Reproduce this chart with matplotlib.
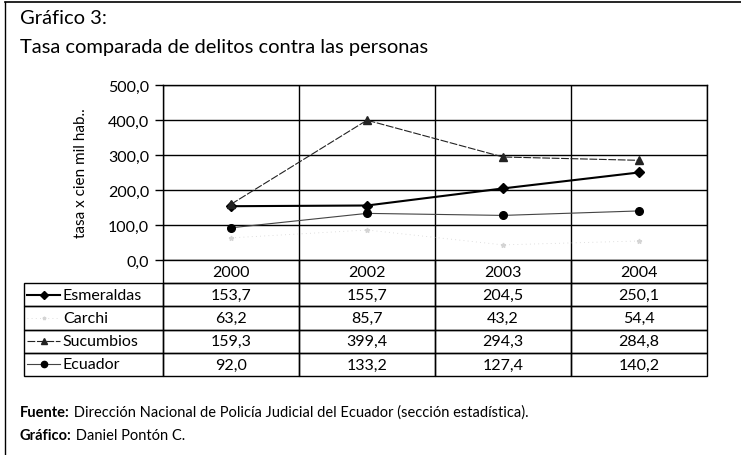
import matplotlib
matplotlib.use("Agg")
import matplotlib.pyplot as plt
from matplotlib.lines import Line2D

plt.rcParams['font.family'] = ['Lato', 'DejaVu Sans']

years = ['2000', '2002', '2003', '2004']
provincias = ['Esmeraldas', 'Carchi', 'Sucumbios', 'Ecuador']
esmeraldas = [153.7, 155.7, 204.5, 250.1]
carchi = [63.2, 85.7, 43.2, 54.4]
sucumbios = [159.3, 399.4, 294.3, 284.8]
ecuador = [92.0, 133.2, 127.4, 140.2]
y_ticks = [0, 100, 200, 300, 400, 500]

# line styles for each series (also used for the keys in the table)
styles = {
    'Esmeraldas': dict(color='black', lw=1.5, marker='D', ms=5.5, ls='-'),
    'Carchi': dict(color='#d4d4d4', lw=0.6, marker='*', ms=3.5, ls=(0, (1, 4))),
    'Sucumbios': dict(color='#222222', lw=0.8, marker='^', ms=6, ls=(0, (7, 1.5))),
    'Ecuador': dict(color='#444444', lw=0.8, marker='o', ms=5.5, ls='-', mfc='black', mec='black'),
}
series = {'Esmeraldas': esmeraldas, 'Carchi': carchi,
          'Sucumbios': sucumbios, 'Ecuador': ecuador}

W, H = 741, 456
fig = plt.figure(figsize=(W / 100, H / 100), dpi=100)

def fx(px):
    return px / W

def fy(py):
    return 1 - py / H

# frame lines around the figure box
fig.add_artist(Line2D([fx(5), 1], [fy(3), fy(3)], color='black', lw=1.2))
fig.add_artist(Line2D([fx(5), fx(5)], [fy(3), 0], color='black', lw=1.0))

fig.text(fx(20), fy(19), 'Gráfico 3:', fontsize=14.5, va='center', ha='left')
fig.text(fx(20), fy(48), 'Tasa comparada de delitos contra las personas',
         fontsize=14.5, va='center', ha='left')

left, right, top, bottom = 163, 707, 86, 261
ax = fig.add_axes([fx(left), fy(bottom), fx(right - left), (bottom - top) / H])

x = list(range(len(years)))
for name in provincias:
    st = styles[name]
    ax.plot(x, series[name], color=st['color'], lw=st['lw'], ls=st['ls'],
            marker=st['marker'], ms=st['ms'],
            mfc=st.get('mfc', st['color']), mec=st.get('mec', st['color']),
            zorder=3)

ax.set_xlim(-0.5, len(years) - 0.5)
ax.set_ylim(0, 500)
ax.set_yticks(y_ticks)
ax.set_yticklabels([f'{v:.1f}'.replace('.', ',') for v in y_ticks], fontsize=11.5)
ax.set_xticks([i - 0.5 for i in range(len(years) + 1)], minor=False)
ax.set_xticklabels([])
ax.tick_params(axis='x', length=0)
ax.tick_params(axis='y', direction='out', length=6, width=1, pad=4)
ax.grid(True, color='black', lw=1.0)
for sp in ax.spines.values():
    sp.set_color('black')
    sp.set_linewidth(1.0)
ax.set_ylabel('tasa x cien mil hab..', fontsize=11, labelpad=14)

# data table under the plot
tab_left, tab_bottom = 24, 377
cell_text = [[''] + years]
for name in provincias:
    cell_text.append([name] + [f'{v:.1f}'.replace('.', ',') for v in series[name]])
col_w = [163 - tab_left] + [(right - left) / len(years)] * len(years)
tot = sum(col_w)
tbl = ax.table(cellText=cell_text, colWidths=[c / tot for c in col_w],
               cellLoc='center',
               bbox=[(tab_left - left) / (right - left),
                     -(tab_bottom - bottom) / (bottom - top),
                     (right - tab_left) / (right - left),
                     (tab_bottom - bottom) / (bottom - top)])
tbl.auto_set_font_size(False)
tbl.set_fontsize(11.5)
for (r, c), cell in tbl.get_celld().items():
    cell.set_linewidth(1.0)
    cell.set_edgecolor('black')
    cell.set_facecolor('none')
    if r == 0:
        cell.visible_edges = '' if c == 0 else 'LRB'
    if c == 0 and r > 0:
        cell.get_text().set_ha('left')
        cell._loc = 'left'
        cell.PAD = 0.28

# series keys in the label column
row_h = (tab_bottom - bottom) / 5
for i, name in enumerate(provincias):
    yc = fy(bottom + row_h * (i + 1.5))
    st = styles[name]
    fig.add_artist(Line2D([fx(27), fx(60)], [yc, yc], color=st['color'],
                          lw=st['lw'], ls=st['ls']))
    fig.add_artist(Line2D([fx(43.5)], [yc], marker=st['marker'],
                          ms=st['ms'] - 1, color=st['color'],
                          mfc=st.get('mfc', st['color']),
                          mec=st.get('mec', st['color']), ls='none'))

f1 = fig.text(fx(20), fy(413), 'Fuente:', fontsize=10.5, fontweight='bold',
              va='center', ha='left')
ax.annotate(' Dirección Nacional de Policía Judicial del Ecuador (sección estadística).',
            xy=(1, 0), xycoords=f1, va='bottom', ha='left', fontsize=10.5,
            annotation_clip=False)
f2 = fig.text(fx(20), fy(436), 'Gráfico:', fontsize=10.5, fontweight='bold',
              va='center', ha='left')
ax.annotate(' Daniel Pontón C.', xy=(1, 0), xycoords=f2, va='bottom',
            ha='left', fontsize=10.5, annotation_clip=False)

fig.savefig('out.png', dpi=100)
